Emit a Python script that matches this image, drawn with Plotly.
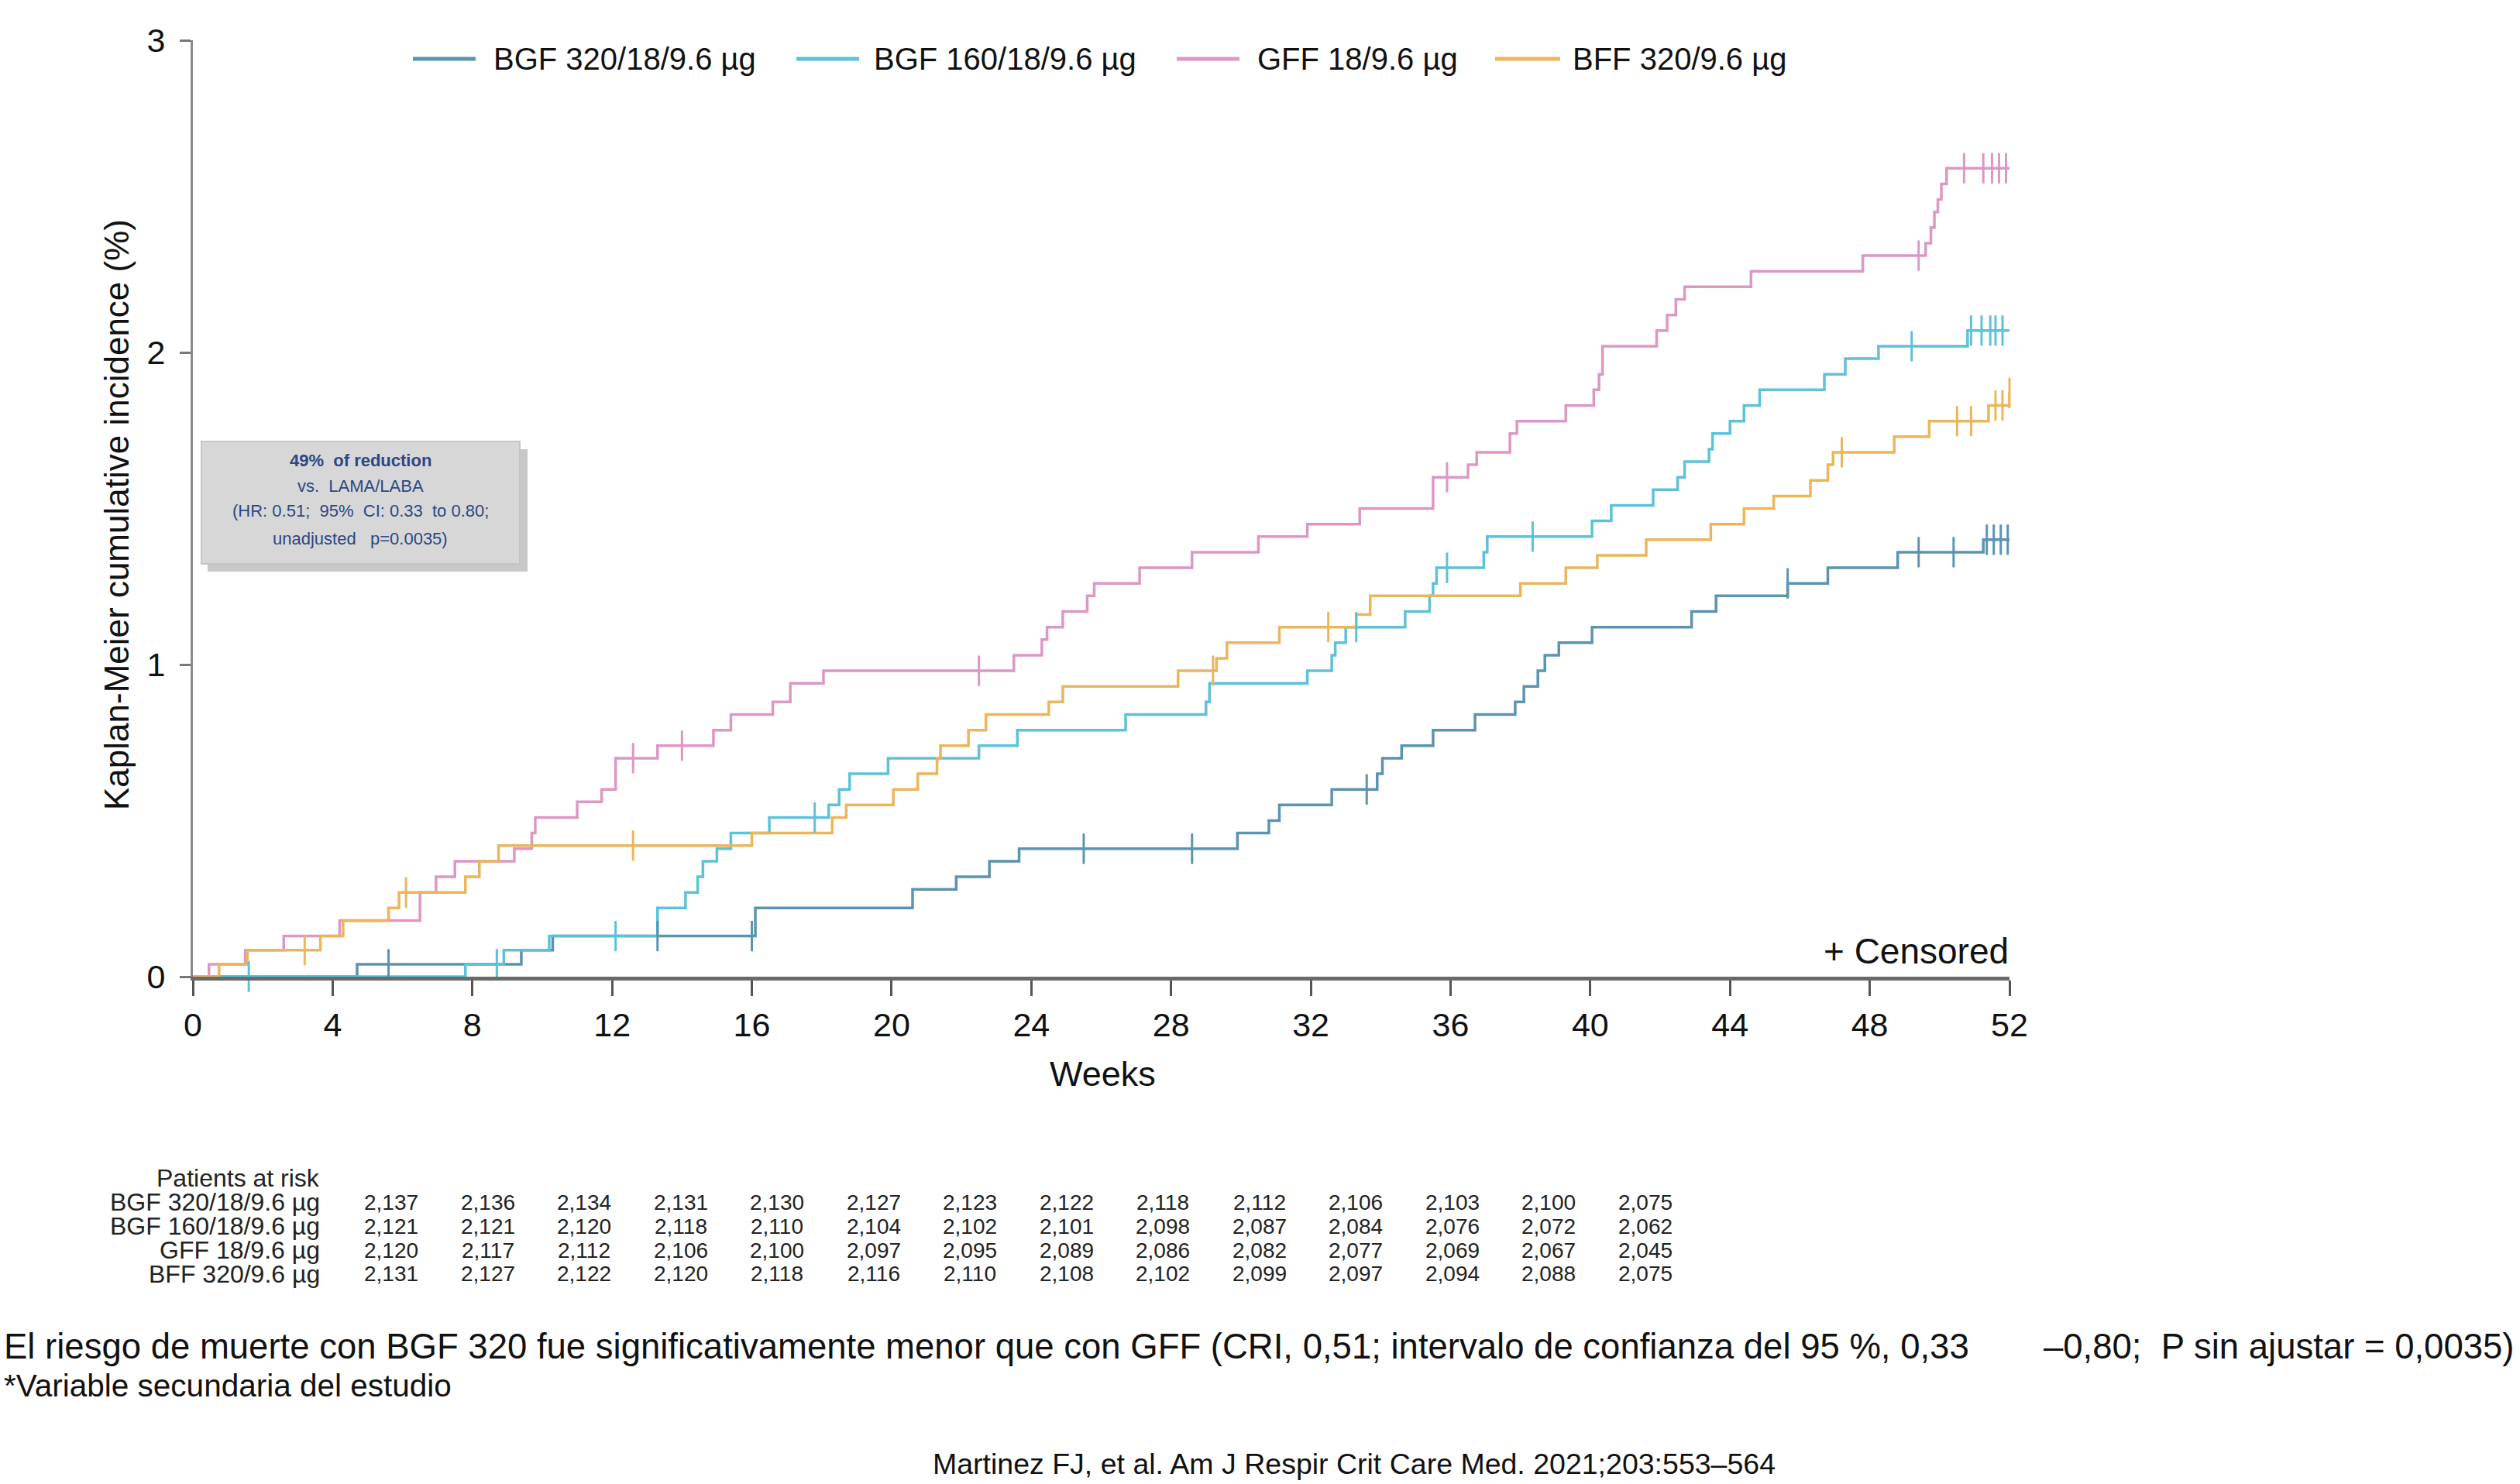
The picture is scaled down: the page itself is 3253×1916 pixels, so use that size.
import numpy as np
import plotly.graph_objects as go

# ---------------- data ----------------
series_names = ["BGF 320/18/9.6 µg", "BGF 160/18/9.6 µg", "GFF 18/9.6 µg", "BFF 320/9.6 µg"]
series_colors = ["#5b93b0", "#5cc2d8", "#dd97c3", "#ebb55c"]

bgf320_t = [0, 4.7, 9.4, 10.3, 16.1, 20.6, 21.85, 22.8, 23.65, 29.9, 30.8, 31.1, 32.6, 33.9, 34.05,
            34.6, 35.5, 36.7, 37.85, 38.1, 38.5, 38.7, 39.1, 40.05, 42.9, 43.6, 45.65, 46.8, 48.8,
            51.25, 52.2]
bgf320_v = [0, 0.04, 0.085, 0.13, 0.22, 0.28, 0.32, 0.37, 0.41, 0.46, 0.50, 0.55, 0.60, 0.65, 0.70,
            0.74, 0.79, 0.84, 0.88, 0.93, 0.98, 1.03, 1.07, 1.12, 1.17, 1.22, 1.26, 1.31, 1.36,
            1.40, 1.40]
bgf320_cens = [5.6, 13.3, 16.0, 25.5, 28.6, 33.6, 45.65, 49.4, 50.4, 51.35, 51.55, 51.75, 51.95]

bgf160_t = [0, 7.8, 8.9, 10.2, 13.3, 14.1, 14.45, 14.6, 15.0, 15.4, 16.5, 18.2, 18.5, 18.8, 19.9,
            22.5, 23.6, 26.7, 29.0, 29.1, 31.9, 32.6, 32.7, 33.0, 34.7, 35.4, 35.5, 35.6, 36.95,
            37.05, 40.05, 40.6, 41.8, 42.5, 42.7, 43.4, 43.5, 44.0, 44.4, 44.85, 46.7, 47.3, 48.25,
            50.8, 52.2]
bgf160_v = [0, 0.04, 0.085, 0.13, 0.22, 0.27, 0.32, 0.37, 0.41, 0.46, 0.51, 0.55, 0.60, 0.65, 0.70,
            0.74, 0.79, 0.84, 0.88, 0.94, 0.98, 1.03, 1.07, 1.12, 1.17, 1.22, 1.26, 1.31, 1.36,
            1.41, 1.46, 1.51, 1.56, 1.60, 1.65, 1.69, 1.74, 1.78, 1.83, 1.88, 1.93, 1.98, 2.02,
            2.07, 2.07]
bgf160_cens = [1.6, 8.7, 12.1, 17.8, 33.3, 35.9, 38.35, 49.2, 50.9, 51.2, 51.45, 51.6, 51.8, 52.05]

gff_t = [0, 0.46, 1.5, 2.6, 4.2, 6.5, 6.96, 7.5, 9.2, 9.7, 9.8, 11.0, 11.7, 12.1, 13.3, 14.9, 15.4,
         16.6, 17.1, 18.05, 23.5, 24.3, 24.45, 24.9, 25.6, 25.8, 27.1, 28.6, 30.5, 31.9, 33.4, 35.5,
         36.5, 36.75, 37.7, 37.9, 39.3, 40.1, 40.25, 40.35, 41.9, 42.2, 42.45, 42.7, 44.6, 47.8,
         49.6, 49.75, 49.85, 49.95, 50.05, 50.2, 52.3]
gff_v = [0, 0.04, 0.085, 0.13, 0.18, 0.27, 0.32, 0.37, 0.41, 0.46, 0.51, 0.56, 0.60, 0.70, 0.74, 0.79,
         0.84, 0.88, 0.94, 0.98, 1.03, 1.08, 1.12, 1.17, 1.22, 1.26, 1.31, 1.36, 1.41, 1.45, 1.50,
         1.60, 1.64, 1.68, 1.74, 1.78, 1.83, 1.88, 1.93, 2.02, 2.07, 2.12, 2.17, 2.21, 2.26, 2.31,
         2.35, 2.40, 2.45, 2.49, 2.54, 2.59, 2.59]
gff_cens = [12.6, 14.0, 22.5, 35.9, 49.4, 50.7, 51.25, 51.5, 51.7, 51.9, 52.1]

bff_t = [0, 0.75, 1.56, 3.65, 4.3, 5.6, 5.9, 7.8, 8.2, 8.75, 16.0, 18.3, 18.7, 20.05, 20.75, 21.3,
         21.4, 22.2, 22.7, 24.5, 24.9, 28.2, 29.3, 29.6, 31.1, 33.3, 33.7, 38.0, 39.3, 40.2, 41.6,
         43.45, 44.4, 45.25, 46.3, 46.8, 46.95, 48.7, 49.7, 51.4, 52.0, 52.2]
bff_v = [0, 0.04, 0.085, 0.13, 0.18, 0.22, 0.27, 0.32, 0.37, 0.42, 0.46, 0.51, 0.55, 0.60, 0.65, 0.70,
         0.74, 0.79, 0.84, 0.88, 0.93, 0.98, 1.02, 1.07, 1.12, 1.16, 1.22, 1.26, 1.31, 1.35, 1.40,
         1.45, 1.50, 1.54, 1.59, 1.64, 1.68, 1.73, 1.78, 1.83, 1.87, 1.87]
bff_cens = [3.2, 6.1, 12.6, 29.2, 32.5, 47.2, 50.5, 50.9, 51.6, 51.8, 52.0]

x_ticks = list(range(0, 53, 4))
y_ticks = [0, 1, 2, 3]

risk_header = "Patients at risk"
risk_bgf320 = ["2,137", "2,136", "2,134", "2,131", "2,130", "2,127", "2,123", "2,122", "2,118", "2,112", "2,106", "2,103", "2,100", "2,075"]
risk_bgf160 = ["2,121", "2,121", "2,120", "2,118", "2,110", "2,104", "2,102", "2,101", "2,098", "2,087", "2,084", "2,076", "2,072", "2,062"]
risk_gff = ["2,120", "2,117", "2,112", "2,106", "2,100", "2,097", "2,095", "2,089", "2,086", "2,082", "2,077", "2,069", "2,067", "2,045"]
risk_bff = ["2,131", "2,127", "2,122", "2,120", "2,118", "2,116", "2,110", "2,108", "2,102", "2,099", "2,097", "2,094", "2,088", "2,075"]

box_lines = ["<b>49%  of reduction</b>", "vs.  LAMA/LABA", "(HR: 0.51;  95%  CI: 0.33  to 0.80;", "unadjusted   p=0.0035)"]
note_main_a = "El riesgo de muerte con BGF 320 fue significativamente menor que con GFF (CRI, 0,51; intervalo de confianza del 95 %, 0,33"
note_main_b = "–0,80;  P sin ajustar = 0,0035)"
note_foot = "*Variable secundaria del estudio"
citation = "Martinez FJ, et al. Am J Respir Crit Care Med. 2021;203:553–564"

# ---------------- layout geometry (pixels) ----------------
W, H = 3253, 1916
L, R, T, B = 249, 2594, 52, 1261
FONT = "Liberation Sans, Arial, sans-serif"


def xp(px):
    return (px - L) / (R - L)


def yp(py):
    return (B - py) / (B - T)


fig = go.Figure()

all_t = [bgf320_t, bgf160_t, gff_t, bff_t]
all_v = [bgf320_v, bgf160_v, gff_v, bff_v]
all_c = [bgf320_cens, bgf160_cens, gff_cens, bff_cens]

for name, col, t, v in zip(series_names, series_colors, all_t, all_v):
    fig.add_trace(go.Scatter(x=t, y=v, mode="lines", line=dict(color=col, width=3.5, shape="hv"),
                             name=name, showlegend=False, hoverinfo="skip"))

for name, col, t, v, c in zip(series_names, series_colors, all_t, all_v, all_c):
    ta = np.array(t)
    va = np.array(v)
    idx = np.searchsorted(ta, np.array(c), side="right") - 1
    fig.add_trace(go.Scatter(x=c, y=va[idx], mode="markers",
                             marker=dict(symbol="line-ns", size=28, color=col,
                                         line=dict(color=col, width=3)),
                             showlegend=False, hoverinfo="skip", cliponaxis=False))

shapes = []
annotations = []

# manual legend
leg_items = [(533, 614, 635), (1028, 1109, 1126), (1519, 1600, 1621), (1930, 2014, 2028)]
leg_y = 76
for (x1, x2, xt), name, col in zip(leg_items, series_names, series_colors):
    shapes.append(dict(type="line", xref="paper", yref="paper", x0=xp(x1), x1=xp(x2),
                       y0=yp(leg_y), y1=yp(leg_y), line=dict(color=col, width=5)))
    annotations.append(dict(x=xp(xt), y=yp(leg_y), xref="paper", yref="paper", text=name,
                            showarrow=False, xanchor="left", yanchor="middle",
                            font=dict(size=40, color="#111111", family=FONT)))

# annotation box with shadow
shapes.append(dict(type="rect", xref="paper", yref="paper", x0=xp(268), x1=xp(681),
                   y0=yp(738), y1=yp(580), fillcolor="#9a9a9a", opacity=0.55, line=dict(width=0)))
shapes.append(dict(type="rect", xref="paper", yref="paper", x0=xp(260), x1=xp(671),
                   y0=yp(728), y1=yp(570), fillcolor="#d7d7d7", line=dict(color="#c4c4c4", width=2)))
for txt, py in zip(box_lines, [594, 627, 659, 695]):
    annotations.append(dict(x=xp(465), y=yp(py), xref="paper", yref="paper", text=txt,
                            showarrow=False, xanchor="center", yanchor="middle",
                            font=dict(size=22, color="#2b4784", family=FONT)))

# + Censored
annotations.append(dict(x=xp(2595), y=yp(1228), xref="paper", yref="paper", text="+ Censored",
                        showarrow=False, xanchor="right", yanchor="middle",
                        font=dict(size=46, color="#111111", family=FONT)))

# axis titles
annotations.append(dict(x=xp(150), y=yp(665), xref="paper", yref="paper",
                        text="Kaplan-Meier cumulative incidence (%)", textangle=-90,
                        showarrow=False, xanchor="center", yanchor="middle",
                        font=dict(size=44, color="#111111", family=FONT)))
annotations.append(dict(x=xp(1423), y=yp(1386), xref="paper", yref="paper", text="Weeks",
                        showarrow=False, xanchor="center", yanchor="middle",
                        font=dict(size=45, color="#111111", family=FONT)))

# patients at risk table
lab_font = dict(size=32, color="#222222", family=FONT)
num_font = dict(size=28, color="#222222", family=FONT)
annotations.append(dict(x=xp(415), y=yp(1521), xref="paper", yref="paper", text=risk_header,
                        showarrow=False, xanchor="right", yanchor="middle", font=lab_font))
rows = [risk_bgf320, risk_bgf160, risk_gff, risk_bff]
row_y = [1552, 1583, 1614, 1645]
for name, vals, py in zip(series_names, rows, row_y):
    annotations.append(dict(x=xp(415), y=yp(py), xref="paper", yref="paper", text=name,
                            showarrow=False, xanchor="right", yanchor="middle", font=lab_font))
    for i, val in enumerate(vals):
        annotations.append(dict(x=xp(505 + 124.5 * i), y=yp(py), xref="paper", yref="paper",
                                text=val, showarrow=False, xanchor="center", yanchor="middle",
                                font=num_font))

# notes
annotations.append(dict(x=xp(3), y=yp(1738), xref="paper", yref="paper", text=note_main_a,
                        showarrow=False, xanchor="left", yanchor="middle",
                        font=dict(size=45.5, color="#111111", family=FONT)))
annotations.append(dict(x=xp(3248), y=yp(1738), xref="paper", yref="paper", text=note_main_b,
                        showarrow=False, xanchor="right", yanchor="middle",
                        font=dict(size=45.5, color="#111111", family=FONT)))
annotations.append(dict(x=xp(3), y=yp(1789), xref="paper", yref="paper", text=note_foot,
                        showarrow=False, xanchor="left", yanchor="middle",
                        font=dict(size=40.5, color="#111111", family=FONT)))
annotations.append(dict(x=xp(1748), y=yp(1890), xref="paper", yref="paper", text=citation,
                        showarrow=False, xanchor="center", yanchor="middle",
                        font=dict(size=37.5, color="#111111", family=FONT)))

fig.update_layout(
    width=W, height=H,
    margin=dict(l=L, r=W - R, t=T, b=H - B, pad=0),
    paper_bgcolor="white", plot_bgcolor="white",
    showlegend=False,
    shapes=shapes, annotations=annotations,
    font=dict(family=FONT, color="#111111"),
)
fig.update_xaxes(range=[0, 52], tickvals=x_ticks, ticks="outside", ticklen=20, tickwidth=3,
                 tickcolor="#555555", showline=True, linecolor="#6a6a6a", linewidth=5,
                 showgrid=False, zeroline=False, tickfont=dict(size=43, color="#111111", family=FONT))
fig.update_yaxes(range=[0, 3], tickvals=y_ticks, ticks="outside", ticklen=14, tickwidth=3,
                 tickcolor="#777777", showline=True, linecolor="#8a8a8a", linewidth=3,
                 showgrid=False, zeroline=False, ticklabelstandoff=10,
                 tickfont=dict(size=43, color="#111111", family=FONT))

fig.write_html("out.html", config={"displayModeBar": False},
               post_script="document.body.style.margin='0';document.body.style.overflow='hidden';")
